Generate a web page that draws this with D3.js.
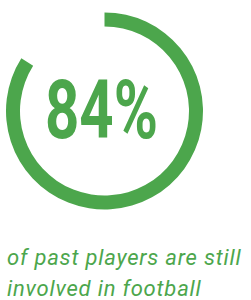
<!DOCTYPE html>
<html>
<head>
<meta charset="utf-8">
<script src="https://cdn.jsdelivr.net/npm/d3@7"></script>
<style>
  body { margin: 0; background: #fff; }
</style>
</head>
<body>
<svg id="chart" width="251" height="300"></svg>
<script>
// share shown in the ring
var percentValue = 84;
var percentLabel = "84%";
var captionLines = ["of past players are still", "involved in football"];

var green = "#4ca64c";
var svg = d3.select("#chart");

var cx = 104.5, cy = 111;
var outerR = 98.5, thick = 14;

// value -> angle, clockwise from the top
var angle = d3.scaleLinear().domain([0, 100]).range([0, 2 * Math.PI]);

var arc = d3.arc()
    .innerRadius(outerR - thick)
    .outerRadius(outerR)
    .startAngle(0)
    .endAngle(function(d) { return angle(d); });

var g = svg.append("g").attr("transform", "translate(" + cx + "," + cy + ")");

g.append("path")
    .datum(percentValue)
    .attr("d", arc)
    .attr("fill", green);

g.append("text")
    .attr("x", -3)
    .attr("y", 27)
    .attr("text-anchor", "middle")
    .attr("font-family", "Roboto, sans-serif")
    .attr("font-weight", "bold")
    .attr("font-size", 82)
    .attr("textLength", 113)
    .attr("lengthAdjust", "spacingAndGlyphs")
    .attr("fill", green)
    .text(percentLabel);

svg.selectAll("text.caption")
    .data(captionLines)
    .enter().append("text")
    .attr("class", "caption")
    .attr("x", 7)
    .attr("y", function(d, i) { return 265 + i * 31; })
    .attr("font-family", "Roboto, sans-serif")
    .attr("font-style", "italic")
    .attr("font-weight", 400)
    .attr("font-size", 22)
    .attr("letter-spacing", 0.8)
    .attr("fill", green)
    .text(function(d) { return d; });
</script>
</body>
</html>
